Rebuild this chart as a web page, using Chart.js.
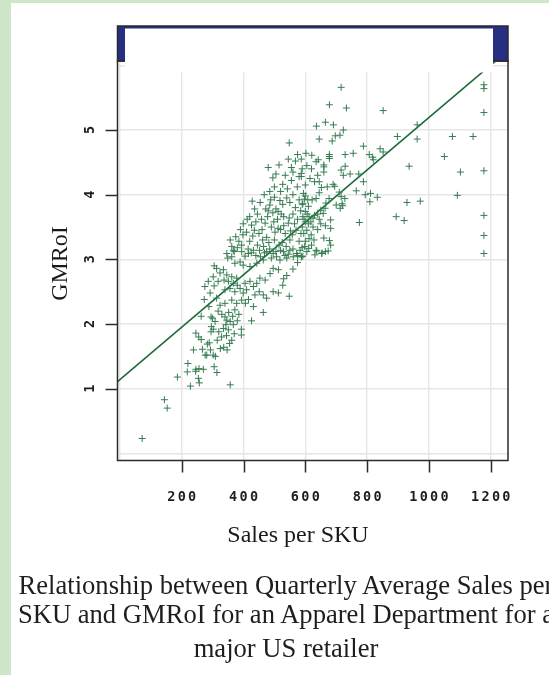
<!DOCTYPE html>
<html>
<head>
<meta charset="utf-8">
<script src="https://cdn.jsdelivr.net/npm/chart.js@4.4.1/dist/chart.umd.min.js"></script>
<style>
  html, body { margin: 0; padding: 0; background: #fff; }
  #wrap { position: relative; width: 549px; height: 675px; overflow: hidden; }
  .cap {
    position: absolute; left: 0; width: 572px;
    text-align: center; white-space: nowrap; color: #1e1e1e;
    font-family: "Liberation Serif", serif; font-size: 26.6px; line-height: 29px;
  }
</style>
</head>
<body>
<div id="wrap">
  <canvas id="gmroiChart" width="549" height="675"></canvas>
  <div class="cap" style="top:571px">Relationship between Quarterly Average Sales per<br>SKU and GMRoI for an Apparel Department for a</div>
  <div class="cap" style="top:634px">major US retailer</div>
</div>
<script>
// axis ticks
const xGrid = [0, 200, 400, 600, 800, 1000, 1200];
const xLabels = [200, 400, 600, 800, 1000, 1200];
const yGrid = [0, 1, 2, 3, 4, 5, 6];
const yLabels = [1, 2, 3, 4, 5];

// [sales per SKU, GMRoI]
const tailPoints = [
  [72,0.23],[144,0.83],[153,0.70],[186,1.18],[228,1.04],[220,1.39],[218,1.26],[245,1.27],
  [254,1.16],[257,1.09],[246,1.30],[256,1.31],[270,1.30],[238,1.60],[267,1.61],[246,1.86],
  [255,1.80],[263,1.76],[281,1.52],[263,2.12],[273,2.38],[283,1.69],[289,1.71],[293,1.60],
  [288,2.27],[295,2.11],[296,1.96],[295,1.88],[275,2.58],[286,2.66],[292,2.48],[276,1.52]
];
const lowerCloud = [
  [300,2.09],[302,1.92],[302,1.52],[305,1.34],[314,1.25],[309,1.50],[305,2.59],[329,1.80],
  [336,1.64],[347,1.60],[362,1.75],[357,1.06],[340,2.11],[346,2.06],[343,1.99],[351,1.91],
  [335,1.93],[357,2.04],[367,1.99],[372,2.22],[393,1.92],[393,1.83],[308,2.04],[313,2.40],
  [324,2.29],[340,2.32],[362,2.37],[378,2.32],[394,2.37],[340,2.53],[356,2.55],[372,2.50],
  [389,2.55],[318,2.20],[330,2.15],[352,2.18],[365,2.12],[380,2.05],[320,1.88],[345,1.82],
  [355,1.70],[370,1.85],[385,2.15],[325,1.62],[315,1.75],
  [399,2.48],[410,2.53],[405,2.63],[421,2.66],[432,2.58],[443,2.63],[453,2.71],[470,2.68],
  [486,2.78],[496,2.86],[416,2.38],[406,2.32],[432,2.27],[437,2.45],[451,2.50],[464,2.45],
  [475,2.40],[496,2.50],[426,2.05],[464,2.18],[443,2.94],[464,2.99],[421,2.89],[399,2.91],
  [389,2.96],[372,2.94],[378,2.71],[380,2.60],[367,2.63],[362,2.73],[351,2.66],[346,2.76],
  [337,2.68],[335,2.84],[302,2.73],[318,2.66],[324,2.79],[313,2.86],[305,2.90],
  [513,2.84],[518,2.99],[540,3.02],[561,3.04],[507,3.04],[527,2.60],[548,2.43],[513,2.48],
  [540,2.75],[560,2.85],[575,2.95],[530,2.70]
];
const coreCloud = [
  [529,3.12],[550,3.14],[572,3.09],[475,3.12],[496,3.09],[432,3.14],[416,3.09],[394,3.12],
  [367,3.14],[346,3.09],[362,3.04],[349,3.02],[362,3.20],[375,3.35],[394,3.22],[370,3.12],
  [385,3.28],[357,3.30],[398,3.38],[399,3.55],[426,3.53],[410,3.42],[420,3.28],[435,3.45],
  [445,3.22],[415,3.16],[440,3.06],[430,3.36],[450,3.40],[405,3.05],[425,3.10],[454,3.88],
  [485,3.84],[445,3.70],[480,3.75],[495,3.72],[505,3.78],[470,3.56],[460,3.46],[490,3.50],
  [510,3.62],[475,3.34],[500,3.30],[520,3.46],[465,3.20],[485,3.16],[515,3.22],[455,3.04],
  [490,3.02],[505,3.12],[518,3.91],[527,3.85],[540,3.95],[550,3.88],[530,3.66],[545,3.56],
  [560,3.70],[575,3.62],[585,3.75],[535,3.40],[550,3.30],[570,3.45],[580,3.28],[525,3.26],
  [560,3.16],[575,3.06],[545,3.08],[458,3.62],[478,3.66],[498,3.58],[512,3.48],[530,3.52],
  [552,3.44],[565,3.55],[590,3.50],[440,3.58],[420,3.66],[462,3.30],[482,3.26],[502,3.42],
  [538,3.20],[558,3.38],[472,3.78],[488,3.92],[500,3.96],[512,3.74],[522,3.70],[436,3.78],
  [412,3.62],[390,3.46],[380,3.18],[452,3.14],[468,3.10],[534,3.06],[520,3.14],[548,3.64],
  [568,3.80],[580,3.92],[592,3.86],[596,3.62],[586,3.40],[598,3.20],[592,3.05],
  [583,3.14],[588,3.04],[631,3.07],[635,3.14],[653,3.09],[665,3.12]
];
const upperCloud = [
  [548,4.80],[480,4.42],[555,4.42],[568,4.52],[495,4.26],[505,4.32],[527,4.16],[555,4.22],
  [574,4.12],[542,4.09],[467,4.00],[428,3.90],[520,4.05],[535,4.30],[560,4.35],[580,4.28],
  [590,4.40],[545,4.55],[515,4.46],[575,4.62],[500,4.12],[485,4.05],[560,4.00]
];
const rightCloud = [
  [587,4.55],[602,4.64],[621,4.61],[635,4.51],[642,4.54],[660,4.46],[660,4.43],[660,4.35],
  [678,4.59],[678,4.56],[678,4.62],[587,4.33],[587,4.28],[652,4.11],[645,4.03],[635,3.94],
  [622,3.92],[608,3.92],[600,3.98],[594,4.02],[597,3.93],[650,3.76],[658,3.71],[664,3.79],
  [682,3.61],[682,3.48],[665,3.52],[619,3.38],[628,3.30],[660,3.33],[678,3.29],[682,3.22],
  [611,3.17],[637,3.13],[654,3.10],[674,3.13],[587,3.04],[695,4.13],[690,4.16],[671,4.12],
  [710,4.04],[716,3.97],[677,3.94],[667,3.87],[700,3.84],[713,3.79],[719,3.86],[728,3.94],
  [721,3.83],[600,3.74],[606,3.70],[612,3.66],[625,3.64],[618,3.58],[630,3.68],[640,3.70],
  [645,3.62],[600,3.58],[592,3.66],[610,3.55],[625,3.50],[605,3.45],[595,3.40],[612,3.32],
  [640,3.46],[650,3.55],[600,3.28],[620,3.22],[590,3.18],[605,3.12],[610,3.82],[590,3.85],
  [630,4.20],[615,4.25],[600,4.15],[620,4.40],[640,4.30],[645,4.20],[605,4.45],
  [716,5.66],[678,5.39],[733,5.34],[852,5.30],[636,5.06],[665,5.12],[691,5.08],[723,5.00],
  [712,4.92],[697,4.91],[687,4.83],[645,4.86],[788,4.75],[755,4.64],[729,4.62],[807,4.62],
  [818,4.58],[820,4.54],[842,4.71],[852,4.66],[773,4.32],[788,4.20],[745,4.32],[723,4.30],
  [729,4.44],[716,4.38],[765,4.06],[794,4.00],[811,4.02],[809,3.89],[833,3.96],[775,3.57]
];
const farPoints = [
  [962,5.08],[898,4.90],[962,4.86],[1076,4.90],[1143,4.90],[1050,4.59],[1102,4.35],[936,4.44],
  [1092,3.99],[929,3.88],[972,3.90],[894,3.66],[920,3.60],[1178,5.70],[1178,5.64],[1178,5.27],
  [1178,4.37],[1178,3.68],[1178,3.37],[1178,3.09]
];

// fitted line, ends read where it meets the panel edges
const fitSales = [-7.8, 1256];
const fitGmroi = [1.11, 6.23];

const allPoints = [].concat(tailPoints, lowerCloud, coreCloud, upperCloud, rightCloud, farPoints)
  .map(p => ({ x: p[0], y: p[1] }));
const fitLine = fitSales.map((s, i) => ({ x: s, y: fitGmroi[i] }));

// lattice-style frame, strip, ticks and titles
const panelPlugin = {
  id: 'panel',
  beforeDraw(chart) {
    const ctx = chart.ctx;
    ctx.save();
    ctx.fillStyle = '#fff';
    ctx.fillRect(0, 0, chart.width, chart.height);
    ctx.fillStyle = '#cde6c8';
    ctx.fillRect(0, 0, 11, chart.height);
    ctx.fillRect(0, 0, chart.width, 3);
    ctx.restore();
  },
  afterDraw(chart) {
    const ctx = chart.ctx;
    const a = chart.chartArea;
    const xs = chart.scales.x, ys = chart.scales.y;
    ctx.save();
    ctx.strokeStyle = '#2a2a2a';
    ctx.lineWidth = 1.5;
    ctx.strokeRect(a.left, a.top, a.right - a.left, a.bottom - a.top);

    // strip on top
    ctx.fillStyle = '#272f80';
    ctx.fillRect(a.left, 26, a.right - a.left, a.top - 26);
    ctx.strokeRect(a.left, 26, a.right - a.left, a.top - 26);
    ctx.fillStyle = '#fff';
    ctx.fillRect(125, 28.5, 368, 44);

    // tick marks
    ctx.beginPath();
    xLabels.forEach(v => {
      const px = Math.round(xs.getPixelForValue(v)) + 0.5;
      ctx.moveTo(px, a.bottom);
      ctx.lineTo(px, a.bottom + 12);
    });
    yLabels.forEach(v => {
      const py = Math.round(ys.getPixelForValue(v)) + 0.5;
      ctx.moveTo(a.left - 12, py);
      ctx.lineTo(a.left, py);
    });
    ctx.stroke();

    // tick labels
    ctx.fillStyle = '#1e1e1e';
    ctx.font = 'bold 13.5px "DejaVu Sans Mono"';
    ctx.letterSpacing = '2.3px';
    ctx.textAlign = 'center';
    ctx.textBaseline = 'alphabetic';
    xLabels.forEach(v => {
      ctx.fillText(String(v), xs.getPixelForValue(v) + 1.2, 500.5);
    });
    yLabels.forEach(v => {
      ctx.save();
      ctx.translate(93.5, ys.getPixelForValue(v));
      ctx.rotate(-Math.PI / 2);
      ctx.fillText(String(v), 1.2, 0);
      ctx.restore();
    });

    // axis titles
    ctx.letterSpacing = '0px';
    ctx.fillStyle = '#1a1a1a';
    ctx.font = '24px "Liberation Serif"';
    ctx.fillText('Sales per SKU', 298, 541.5);
    ctx.save();
    ctx.translate(66.5, 263.5);
    ctx.rotate(-Math.PI / 2);
    ctx.fillText('GMRoI', 0, 0);
    ctx.restore();
    ctx.restore();
  }
};

new Chart(document.getElementById('gmroiChart').getContext('2d'), {
  type: 'scatter',
  data: {
    datasets: [
      {
        label: 'SKU',
        data: allPoints,
        pointStyle: 'cross',
        pointRadius: 3.5,
        pointBorderWidth: 1,
        borderColor: '#357c51',
        backgroundColor: '#357c51'
      },
      {
        label: 'fit',
        data: fitLine,
        showLine: true,
        pointRadius: 0,
        borderColor: '#1b6a38',
        borderWidth: 1.6
      }
    ]
  },
  options: {
    responsive: false,
    animation: false,
    devicePixelRatio: 1,
    layout: { padding: { left: 117.5, right: 41, top: 61, bottom: 214.5 } },
    plugins: { legend: { display: false }, tooltip: { enabled: false } },
    scales: {
      x: {
        type: 'linear', min: -7.8, max: 1256,
        afterBuildTicks: s => { s.ticks = xGrid.map(v => ({ value: v })); },
        afterFit: s => { s.height = 0; },
        ticks: { display: false },
        grid: { color: '#e6e6e6', lineWidth: 1.4, drawTicks: false },
        border: { display: false }
      },
      y: {
        type: 'linear', min: -0.11, max: 6.067,
        afterBuildTicks: s => { s.ticks = yGrid.map(v => ({ value: v })); },
        afterFit: s => { s.width = 0; },
        ticks: { display: false },
        grid: { color: '#e6e6e6', lineWidth: 1.4, drawTicks: false },
        border: { display: false }
      }
    }
  },
  plugins: [panelPlugin]
});
</script>
</body>
</html>
